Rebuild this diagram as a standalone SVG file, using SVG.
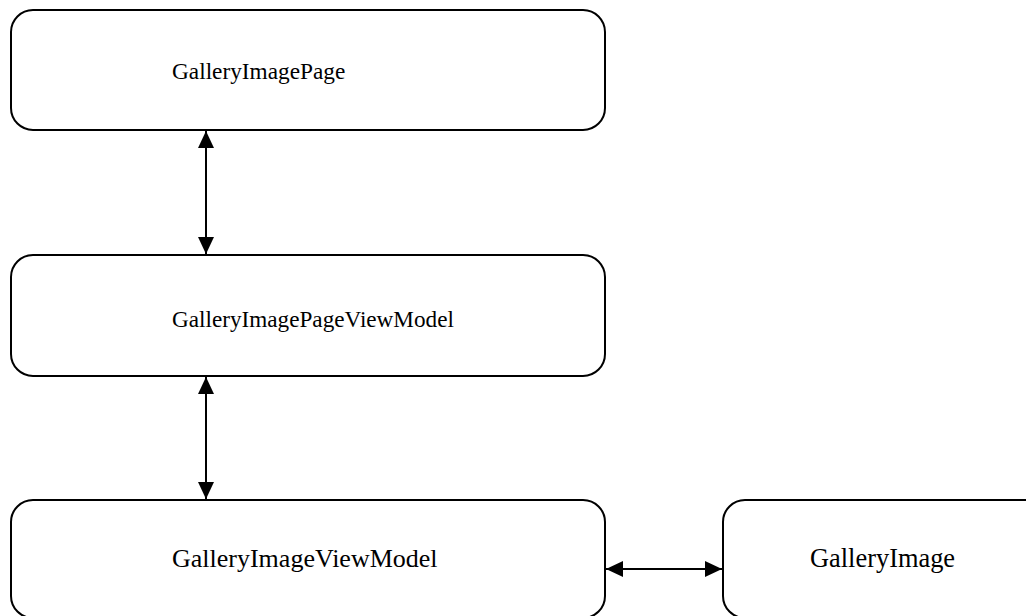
<svg xmlns="http://www.w3.org/2000/svg" width="1026" height="616" viewBox="0 0 1026 616">
<style>
.box{fill:#fff;stroke:#000;stroke-width:2}
.lbl{font-family:"Liberation Serif","Times New Roman",serif;fill:#000}
.con{stroke:#000;stroke-width:2;fill:none}
</style>
<defs>
<marker id="ah" viewBox="0 0 17 16" refX="17" refY="8" markerWidth="17" markerHeight="16" markerUnits="userSpaceOnUse" orient="auto-start-reverse">
<path d="M0,0 L17,8 L0,16 Z" fill="#000"/>
</marker>
</defs>
<rect width="1026" height="616" fill="#fff"/>
<g id="connectors">
<line class="con" x1="206" y1="131" x2="206" y2="254" marker-start="url(#ah)" marker-end="url(#ah)"/>
<line class="con" x1="206" y1="377" x2="206" y2="499" marker-start="url(#ah)" marker-end="url(#ah)"/>
<line class="con" x1="606" y1="569" x2="722" y2="569" marker-start="url(#ah)" marker-end="url(#ah)"/>
</g>
<g id="node-gallery-image-page">
<rect class="box" x="11" y="10" width="594" height="120" rx="22" ry="22"/>
<text class="lbl" x="172" y="79" font-size="23.3">GalleryImagePage</text>
</g>
<g id="node-gallery-image-page-view-model">
<rect class="box" x="11" y="255" width="594" height="121" rx="22" ry="22"/>
<text class="lbl" x="172" y="327" font-size="23.2">GalleryImagePageViewModel</text>
</g>
<g id="node-gallery-image-view-model">
<rect class="box" x="11" y="500" width="594" height="118" rx="22" ry="22"/>
<text class="lbl" x="172" y="567" font-size="26">GalleryImageViewModel</text>
</g>
<g id="node-gallery-image">
<rect class="box" x="723" y="500" width="330" height="118" rx="22" ry="22"/>
<text class="lbl" x="810" y="567" font-size="26.4">GalleryImage</text>
</g>
</svg>
